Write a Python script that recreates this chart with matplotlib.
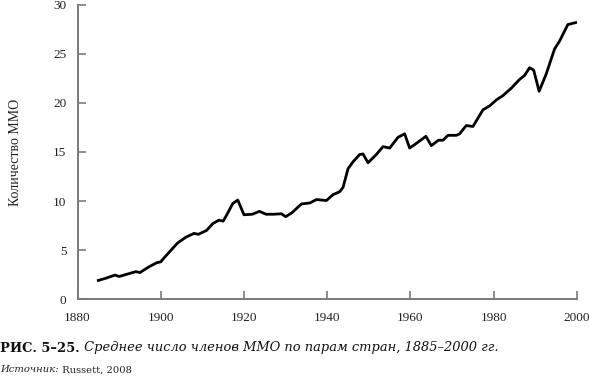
import matplotlib.pyplot as plt

# данные
years = [1885, 1887, 1889, 1890, 1892, 1894, 1895, 1897, 1899, 1900, 1901,
         1904, 1906, 1908, 1909, 1911, 1912.5, 1914, 1915, 1916, 1917.3,
         1918.5, 1920, 1922, 1923.7, 1925.3, 1927, 1929, 1930, 1931.5,
         1933.8, 1935.8, 1937.4, 1939.8, 1941.4, 1943, 1943.8, 1945,
         1946.2, 1947.8, 1948.6, 1949.8, 1951.8, 1953.4, 1955, 1957,
         1958.6, 1959.8, 1961.8, 1963.7, 1965, 1966.7, 1967.8, 1969, 1971,
         1971.8, 1973.4, 1975, 1977.4, 1979, 1980.6, 1982.2, 1984.2,
         1986.2, 1987.4, 1988.6, 1989.6, 1990.9, 1992.6, 1994.6, 1995.8,
         1997.8, 1999.7]
values = [1.9, 2.15, 2.45, 2.3, 2.55, 2.8, 2.7, 3.25, 3.7, 3.8, 4.3,
          5.7, 6.3, 6.7, 6.6, 7.0, 7.7, 8.05, 7.95, 8.7, 9.75,
          10.1, 8.6, 8.65, 8.95, 8.65, 8.65, 8.7, 8.4, 8.8,
          9.7, 9.8, 10.15, 10.05, 10.65, 10.95, 11.4, 13.3,
          14.0, 14.75, 14.8, 13.9, 14.75, 15.55, 15.4, 16.5,
          16.85, 15.4, 16.0, 16.6, 15.65, 16.2, 16.2, 16.7, 16.7,
          16.85, 17.7, 17.6, 19.3, 19.7, 20.3, 20.75, 21.5,
          22.4, 22.8, 23.6, 23.35, 21.2, 22.95, 25.5, 26.3,
          28.0, 28.2]
x_ticks = [1880, 1900, 1920, 1940, 1960, 1980, 2000]
y_ticks = [0, 5, 10, 15, 20, 25, 30]

serif = ['DejaVu Serif']
grey = '#7a7a7a'

fig = plt.figure(figsize=(5.89, 3.8), dpi=100)
ax = fig.add_axes([0.1316, 0.213, 0.848, 0.774])

ax.plot(years, values, color='black', linewidth=2.0, solid_joinstyle='round')

ax.set_xlim(1880, 2000)
ax.set_ylim(0, 30)
ax.set_xticks(x_ticks)
ax.set_yticks(y_ticks)

# оформление осей
for side in ['top', 'right']:
    ax.spines[side].set_visible(False)
for side in ['left', 'bottom']:
    ax.spines[side].set_color(grey)
    ax.spines[side].set_linewidth(1.4)
ax.tick_params(direction='in', length=6, width=1.2, color=grey,
               labelsize=9.5, labelcolor='#222222')
ax.tick_params(axis='y', pad=8)
ax.tick_params(axis='x', pad=9)
for lbl in ax.get_xticklabels() + ax.get_yticklabels():
    lbl.set_family(['Liberation Serif', 'DejaVu Serif'])

ax.set_ylabel('Количество ММО', family=['Liberation Serif', 'DejaVu Serif'],
              fontsize=10, color='#222222', labelpad=22)


# текст из нескольких кусков подряд в одной строке
def text_row(y, parts):
    renderer = fig.canvas.get_renderer()
    x = 0
    for s, kw in parts:
        t = fig.text(x / 589, y, s, va='baseline', **kw)
        x = t.get_window_extent(renderer).x1


cap = dict(family=serif, fontsize=9.4, color='#111111')
text_row(0.075, [
    ('РИС. 5–25.', dict(cap, fontweight='bold')),
    (' Среднее число членов ММО по парам стран, 1885–2000 гг.',
     dict(cap, style='italic')),
])
src = dict(family=serif, fontsize=7.2, color='#222222')
text_row(0.02, [
    ('Источник:', dict(src, style='italic')),
    (' Russett, 2008', src),
])

plt.savefig('out.png', dpi=100)
